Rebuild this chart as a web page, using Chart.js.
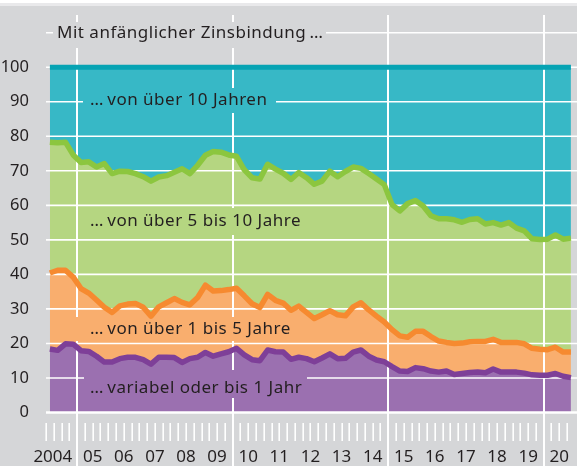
<!DOCTYPE html>
<html>
<head>
<meta charset="utf-8">
<script src="https://cdn.jsdelivr.net/npm/chart.js@4.4.1/dist/chart.umd.min.js"></script>
<style>
  html, body { margin: 0; padding: 0; }
  body {
    width: 577px; height: 466px; overflow: hidden;
    background: linear-gradient(#ffffff 0 3px, #e9e9eb 3px 6px, #d5d6d8 6px);
  }
</style>
</head>
<body>
<canvas id="chart" width="577" height="466"></canvas>
<script>
// Quartalswerte 2004 Q1 bis 2020 Q4, Anteile in %
const years = [2004, 2005, 2006, 2007, 2008, 2009, 2010, 2011, 2012, 2013, 2014, 2015, 2016, 2017, 2018, 2019, 2020];

// variabel oder bis 1 Jahr
const variabel = [
  18.4, 18.0, 19.9, 19.8, 17.9, 17.7, 16.3, 14.6, 14.6, 15.6, 16.0, 16.0,
  15.3, 14.0, 16.0, 16.0, 15.9, 14.5, 15.6, 16.0, 17.4, 16.3, 17.0, 17.6,
  18.6, 16.7, 15.3, 15.0, 18.1, 17.6, 17.5, 15.4, 16.0, 15.6, 14.7, 15.8,
  17.0, 15.6, 15.7, 17.5, 18.1, 16.3, 15.2, 14.7, 13.3, 12.0, 11.9, 13.0,
  12.7, 12.0, 11.7, 12.0, 11.0, 11.3, 11.6, 11.7, 11.5, 12.6, 11.7, 11.7,
  11.7, 11.4, 10.9, 10.8, 10.8, 11.3, 10.5, 10.1
];
// von über 1 bis 5 Jahre
const bis5 = [
  22.0, 23.2, 21.3, 19.4, 18.0, 16.9, 16.3, 15.9, 14.4, 15.3, 15.4, 15.6,
  15.2, 13.9, 14.6, 15.8, 17.1, 17.4, 15.6, 17.3, 19.5, 18.9, 18.3, 18.0,
  17.4, 17.1, 16.2, 15.4, 16.1, 14.9, 14.2, 14.2, 14.8, 13.4, 12.5, 12.5,
  12.5, 12.7, 12.3, 13.1, 13.7, 13.4, 12.7, 11.5, 10.7, 10.2, 9.9, 10.5,
  10.8, 10.0, 9.0, 8.3, 9.0, 8.8, 8.9, 8.9, 9.1, 8.6, 8.6, 8.6,
  8.6, 8.5, 7.7, 7.5, 7.4, 7.6, 7.0, 7.4
];
// von über 5 bis 10 Jahre
const bis10 = [
  37.9, 36.9, 37.1, 35.4, 36.5, 38.0, 38.5, 41.6, 40.2, 39.0, 38.4, 37.6,
  37.8, 39.1, 37.6, 36.8, 36.6, 38.7, 38.0, 38.3, 37.6, 40.4, 40.1, 39.0,
  38.2, 36.5, 36.5, 37.2, 37.7, 38.0, 37.6, 37.9, 38.7, 39.0, 38.9, 38.7,
  40.4, 40.0, 41.8, 40.5, 38.9, 39.5, 39.7, 39.8, 36.2, 36.2, 38.7, 37.9,
  36.3, 35.0, 35.4, 35.8, 35.8, 35.0, 35.4, 35.5, 34.0, 33.8, 34.0, 34.7,
  33.1, 32.7, 31.7, 31.8, 32.0, 32.5, 32.7, 33.0
];
// von über 10 Jahren
const ueber10 = [
  21.7, 21.9, 21.7, 25.4, 27.6, 27.4, 28.9, 27.9, 30.8, 30.1, 30.2, 30.8,
  31.7, 33.0, 31.8, 31.4, 30.4, 29.4, 30.8, 28.4, 25.5, 24.4, 24.6, 25.4,
  25.8, 29.7, 32.0, 32.4, 28.1, 29.5, 30.7, 32.5, 30.5, 32.0, 33.9, 33.0,
  30.1, 31.7, 30.2, 28.9, 29.3, 30.8, 32.4, 34.0, 39.8, 41.6, 39.5, 38.6,
  40.2, 43.0, 43.9, 43.9, 44.2, 44.9, 44.1, 43.9, 45.4, 45.0, 45.7, 45.0,
  46.6, 47.4, 49.7, 49.9, 49.8, 48.6, 49.8, 49.5
];

const yTicks = [0, 10, 20, 30, 40, 50, 60, 70, 80, 90, 100];
const gridValues = [0, 10, 20, 30, 40, 50, 60, 70, 80, 90, 100, 110];
const yearLines = [2005, 2010, 2015, 2020];

// Quartalsmitten als x-Werte
const quarterX = [];
years.forEach(function (y) {
  for (let q = 0; q < 4; q++) quarterX.push(y + (q + 0.5) / 4);
});
function toPoints(values) {
  return values.map(function (v, i) { return { x: quarterX[i], y: v }; });
}

const FONT = '"Noto Sans", "Open Sans", sans-serif';
const TEXT = '#231f20';
const BG = '#d5d6d8';

const series = [
  { name: 'variabel oder bis 1 Jahr', values: variabel, line: '#7e3f98', area: '#9b70b0', width: 5.5 },
  { name: 'von über 1 bis 5 Jahre', values: bis5, line: '#f68a30', area: '#f9ae6e', width: 5.5 },
  { name: 'von über 5 bis 10 Jahre', values: bis10, line: '#8cc63f', area: '#b5d681', width: 5.5 },
  { name: 'von über 10 Jahren', values: ueber10, line: '#06a3b3', area: '#37b8c6', width: 5 }
];

// Flächen (Stapel "f") und Linien (Stapel "l") getrennt, damit das Gitter dazwischen liegt
const datasets = [];
series.forEach(function (s, i) {
  datasets.push({
    label: s.name,
    data: toPoints(s.values),
    stack: 'f',
    order: 2,
    borderWidth: 0,
    backgroundColor: s.area,
    fill: i === 0 ? 'origin' : '-1'
  });
});
series.forEach(function (s) {
  datasets.push({
    label: s.name,
    data: toPoints(s.values),
    stack: 'l',
    order: 1,
    borderWidth: s.width,
    borderColor: s.line,
    fill: false
  });
});
const firstLineIndex = datasets.length - 1;

const overlay = {
  id: 'overlay',
  beforeDatasetDraw(chart, args) {
    if (args.index !== firstLineIndex) return;
    const ctx = chart.ctx;
    const xs = chart.scales.x;
    const ys = chart.scales.y;
    const area = chart.chartArea;
    ctx.save();
    ctx.strokeStyle = '#ffffff';

    // waagerechte Gitterlinien
    gridValues.forEach(function (v) {
      const py = ys.getPixelForValue(v);
      ctx.lineWidth = v === 0 ? 2.5 : 1.6;
      ctx.beginPath();
      ctx.moveTo(area.left, py);
      ctx.lineTo(577, py);
      ctx.stroke();
    });

    // lange Jahreslinien
    ctx.lineWidth = 2;
    yearLines.forEach(function (y) {
      const px = Math.round(xs.getPixelForValue(y));
      ctx.beginPath();
      ctx.moveTo(px, 15);
      ctx.lineTo(px, 466);
      ctx.stroke();
    });

    // Quartalsstriche unter der Achse
    ctx.lineWidth = 1.6;
    years.forEach(function (y) {
      for (let q = 0; q < 4; q++) {
        const v = y + q / 4;
        if (yearLines.indexOf(v) >= 0) continue;
        const px = Math.round(xs.getPixelForValue(v)) + 0.2;
        ctx.beginPath();
        ctx.moveTo(px, 423);
        ctx.lineTo(px, 441);
        ctx.stroke();
      }
    });

    // Beschriftungen mit Hintergrund
    const labels = [
      { t: 'Mit anfänglicher Zinsbindung\u2009\u2026', x: 57, y: 33, bg: BG, box: [53, 22, 273, 26] },
      { t: '\u2026\u2009von über 10 Jahren', x: 90, y: 100, bg: '#37b8c6', box: [83, 88, 193, 25] },
      { t: '\u2026\u2009von über 5 bis 10 Jahre', x: 90, y: 221, bg: '#b5d681', box: [83, 208, 228, 27] },
      { t: '\u2026\u2009von über 1 bis 5 Jahre', x: 90, y: 329, bg: '#f9ae6e', box: [74, 317, 228, 24] },
      { t: '\u2026\u2009variabel oder bis 1 Jahr', x: 90, y: 388, bg: '#9b70b0', box: [84, 370, 223, 28] }
    ];
    ctx.font = '17px ' + FONT;
    ctx.letterSpacing = '0.5px';
    ctx.textBaseline = 'middle';
    ctx.textAlign = 'left';
    labels.forEach(function (l) {
      ctx.fillStyle = l.bg;
      ctx.fillRect(l.box[0], l.box[1], l.box[2], l.box[3]);
      ctx.fillStyle = TEXT;
      ctx.fillText(l.t, l.x, l.y);
    });
    ctx.restore();
  }
};

new Chart(document.getElementById('chart'), {
  type: 'line',
  data: { datasets: datasets },
  options: {
    responsive: false,
    animation: false,
    devicePixelRatio: 1,
    layout: { padding: { top: 16, right: 0, left: 0, bottom: 0 } },
    elements: {
      point: { radius: 0, hoverRadius: 0 },
      line: { tension: 0, borderJoinStyle: 'round', borderCapStyle: 'butt' }
    },
    plugins: {
      legend: { display: false },
      tooltip: { enabled: false }
    },
    scales: {
      x: {
        type: 'linear',
        min: 2004,
        max: 2021.07,
        grid: {
          display: true,
          drawOnChartArea: false,
          drawTicks: true,
          tickLength: 32,
          color: 'rgba(0,0,0,0)'
        },
        border: { display: false },
        afterFit: function (scale) { scale.height = 53.5; },
        afterBuildTicks: function (scale) {
          // "2004" steht links vom 2005er-Strich, die übrigen Jahre mittig
          scale.ticks = years.map(function (y) { return { value: y === 2004 ? y + 0.22 : y + 0.5 }; });
        },
        ticks: {
          autoSkip: false,
          maxRotation: 0,
          padding: 2,
          color: TEXT,
          font: { family: FONT, size: 17 },
          callback: function (v) {
            const y = Math.floor(v);
            return y === 2004 ? '2004' : String(y).slice(2);
          }
        }
      },
      y: {
        stacked: true,
        min: 0,
        max: 114,
        afterFit: function (scale) { scale.width = 46; },
        grid: { display: false },
        border: { display: false },
        ticks: {
          stepSize: 10,
          includeBounds: false,
          padding: 9,
          color: TEXT,
          font: { family: FONT, size: 16.5 },
          callback: function (v) { return yTicks.indexOf(v) >= 0 ? v : ''; }
        }
      }
    }
  },
  plugins: [overlay]
});
</script>
</body>
</html>
